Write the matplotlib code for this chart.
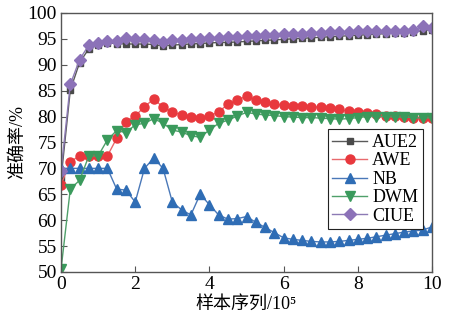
import numpy as np
import matplotlib
matplotlib.use('Agg')
from matplotlib import pyplot as plt

plt.rcParams['font.family'] = ['Liberation Serif', 'Noto Sans CJK SC', 'DejaVu Serif']

# sample index (x10^5), one point every 0.25
x = np.arange(41) * 0.25

aue2 = [68.0, 85.1, 90.4, 93.1, 93.9, 94.2, 94.1, 94.0, 94.0, 94.0,
        93.9, 93.6, 93.8, 93.9, 94.0, 94.1, 94.2, 94.3, 94.3, 94.4,
        94.5, 94.6, 94.7, 94.8, 94.9, 95.0, 95.1, 95.2, 95.3, 95.4,
        95.5, 95.6, 95.7, 95.8, 95.9, 96.0, 96.1, 96.2, 96.3, 96.6, 96.8]
awe = [66.8, 71.3, 72.4, 72.4, 72.4, 72.4, 75.8, 79.0, 80.1, 81.9,
       83.4, 81.8, 80.9, 80.3, 80.0, 79.8, 80.1, 80.9, 82.4, 83.1,
       84.0, 83.1, 82.8, 82.4, 82.2, 82.1, 82.0, 81.9, 81.8, 81.6,
       81.4, 81.0, 80.8, 80.6, 80.4, 80.2, 80.1, 79.9, 79.8, 79.8, 79.7]
nb = [70.0, 70.0, 70.0, 70.0, 70.0, 70.0, 66.0, 65.8, 63.5, 70.0,
      72.0, 70.0, 63.5, 62.0, 61.0, 65.0, 63.0, 61.0, 60.2, 60.3,
      60.7, 59.6, 58.6, 57.6, 56.6, 56.3, 56.1, 55.9, 55.8, 55.8,
      55.9, 56.1, 56.3, 56.5, 56.8, 57.1, 57.4, 57.7, 57.9, 58.1, 58.7]
dwm = [50.5, 66.0, 67.7, 72.4, 72.4, 75.5, 77.3, 76.9, 78.4, 78.7,
       79.6, 78.7, 77.4, 77.0, 76.3, 76.0, 77.4, 78.7, 79.3, 80.1,
       80.8, 80.5, 80.3, 80.2, 80.0, 79.9, 79.8, 79.8, 79.7, 79.6,
       79.5, 79.6, 79.8, 80.0, 80.0, 80.0, 79.9, 79.9, 79.8, 79.7, 79.8]
ciue = [69.5, 86.2, 91.0, 93.8, 94.2, 94.6, 94.5, 95.1, 94.9, 95.0,
        94.7, 94.4, 94.7, 94.8, 94.9, 95.0, 95.2, 95.1, 95.3, 95.4,
        95.6, 95.5, 95.7, 95.8, 95.9, 96.0, 95.9, 96.1, 96.2, 96.3,
        96.4, 96.3, 96.5, 96.5, 96.6, 96.5, 96.6, 96.6, 96.7, 97.4, 97.0]

names = ['AUE2', 'AWE', 'NB', 'DWM', 'CIUE']
series = [aue2, awe, nb, dwm, ciue]
markers = ['s', 'o', '^', 'v', 'D']
mcolors = ['#4a4a4a', '#e8383d', '#2f6db5', '#3a9a5c', '#8c72b8']
lcolors = ['#5a5a5a', '#e86a6d', '#4a78b8', '#4fa06a', '#8c7ab4']
msizes = [5, 6.5, 7, 7, 6]

fig = plt.figure(figsize=(4.5, 3.3), dpi=100)
ax = fig.add_axes([0.1356, 0.1758, 0.8244, 0.785])

for y, n, m, mc, lc, ms in zip(series, names, markers, mcolors, lcolors, msizes):
    ax.plot(x, y, color=lc, lw=1.0, marker=m, ms=ms, mfc=mc, mec=mc, label=n)

ax.set_xlim(0, 10)
ax.set_ylim(50, 100)
ax.set_xticks([0, 2, 4, 6, 8, 10])
ax.set_yticks(range(50, 101, 5))
ax.tick_params(direction='in', length=4, width=0.8, labelsize=14, pad=3,
               color='#555555')
for s in ax.spines.values():
    s.set_color('#555555')
    s.set_linewidth(1.0)

ax.set_xlabel('样本序列/10⁵', fontsize=13, labelpad=2)
ax.set_ylabel('准确率/%', fontsize=13, labelpad=1)

leg = ax.legend(loc='lower right', bbox_to_anchor=(0.975, 0.165), fontsize=13,
                frameon=True, fancybox=False, framealpha=1, edgecolor='#222222',
                labelspacing=0.08, handlelength=1.9, handletextpad=0.3,
                borderpad=0.25, borderaxespad=0)
leg.get_frame().set_linewidth(0.8)

fig.savefig('out.png', dpi=100)
